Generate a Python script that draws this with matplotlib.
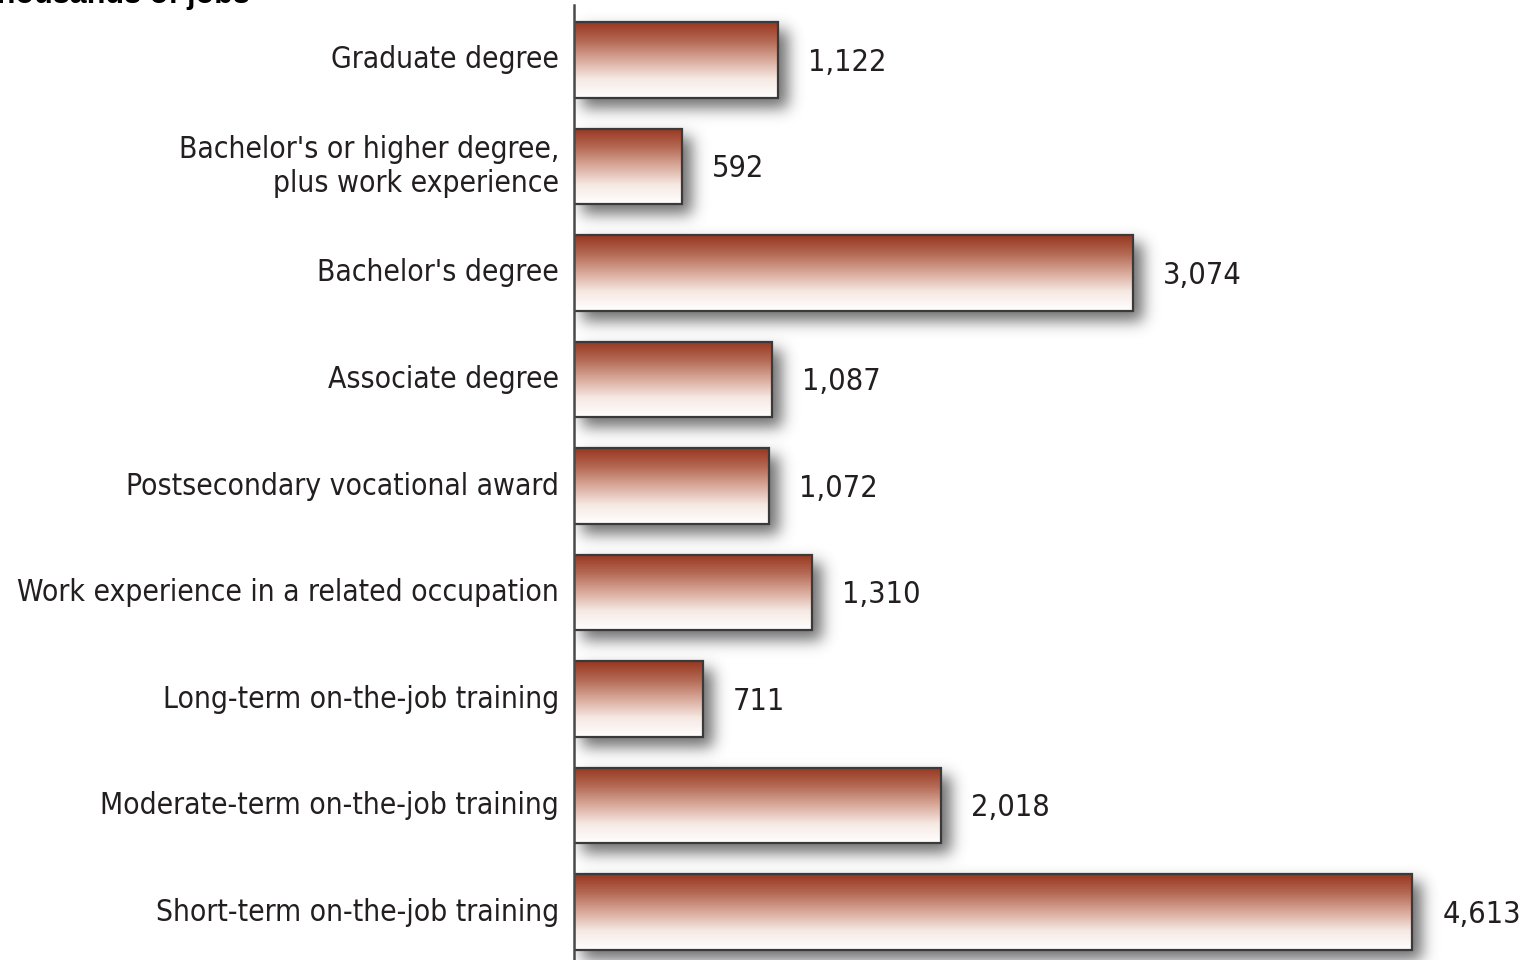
import matplotlib.pyplot as plt
import numpy as np
from matplotlib.colors import LinearSegmentedColormap
from matplotlib.patches import Rectangle

categories = [
    "Graduate degree",
    "Bachelor's or higher degree,\nplus work experience",
    "Bachelor's degree",
    "Associate degree",
    "Postsecondary vocational award",
    "Work experience in a related occupation",
    "Long-term on-the-job training",
    "Moderate-term on-the-job training",
    "Short-term on-the-job training",
]
jobs = [1122, 592, 3074, 1087, 1072, 1310, 711, 2018, 4613]

text_color = "#231f20"
font_kw = dict(family="DejaVu Sans", fontstretch="condensed",
               color=text_color, zorder=4)

W, H = 1524, 960
fig = plt.figure(figsize=(W / 100, H / 100), dpi=100)
ax_w = W - 574
ax = fig.add_axes([574 / W, 0, ax_w / W, 1])
x_max = 5228
y_lo, y_hi = 8.45, -0.563
ax.set_xlim(0, x_max)
ax.set_ylim(y_lo, y_hi)
ax.axis("off")

px_x = x_max / ax_w
px_y = (y_lo - y_hi) / H
bar_h = 0.71

# blurred drop shadow, offset down and to the right
gx = (np.arange(ax_w) + 0.5) * px_x
gy = y_hi + (np.arange(H) + 0.5) * px_y
XX, YY = np.meshgrid(gx, gy)
mask = np.zeros((H, ax_w))
for i, v in enumerate(jobs):
    inside = ((XX > 8 * px_x) & (XX < v + 10 * px_x)
              & (YY > i - bar_h / 2 + 8 * px_y) & (YY < i + bar_h / 2 + 10 * px_y))
    mask[inside] = 1.0

sigma = 7.5
r = np.arange(-24, 25)
kern = np.exp(-r ** 2 / (2 * sigma ** 2))
kern /= kern.sum()
blur = np.apply_along_axis(lambda c: np.convolve(c, kern, mode="same"), 0, mask)
blur = np.apply_along_axis(lambda c: np.convolve(c, kern, mode="same"), 1, blur)
shadow = np.zeros((H, ax_w, 4))
shadow[..., :3] = 0.25
shadow[..., 3] = blur * 0.75
ax.imshow(shadow, extent=(0, x_max, y_lo, y_hi), aspect="auto",
          interpolation="bilinear", zorder=1)

# red-to-white vertical fill for the bars
grad = LinearSegmentedColormap.from_list(
    "bar", ["#98361f", "#b46a55", "#d9aa9b", "#f6e9e4", "#ffffff"])
fill = np.linspace(0, 1, 256).reshape(-1, 1)

for i, v in enumerate(jobs):
    top = i - bar_h / 2
    ax.imshow(fill, cmap=grad, aspect="auto",
              extent=(0, v, i + bar_h / 2, top), zorder=2)
    ax.add_patch(Rectangle((0, top), v, bar_h, facecolor="none",
                           edgecolor="#3a3a3a", linewidth=1.6, zorder=3))
    ax.text(v + 30 * px_x, i + 0.02, f"{v:,}", ha="left", va="center",
            fontsize=22, **font_kw)
    ax.text(-15 * px_x, i, categories[i], ha="right", va="center",
            fontsize=21.5, linespacing=1.2, **font_kw)

ax.set_xlim(0, x_max)
ax.set_ylim(y_lo, y_hi)

# category axis line
ax.plot([0, 0], [-0.52, y_lo], color="#4a4a4a", linewidth=1.8, zorder=5,
        clip_on=False)

fig.text(250 / W, 1 - 3 / H, "Thousands of jobs", ha="right",
         va="baseline", fontsize=22, fontweight="bold", color="black",
         family=["Liberation Sans", "DejaVu Sans"])

fig.savefig("out.png", dpi=100, facecolor="white")
